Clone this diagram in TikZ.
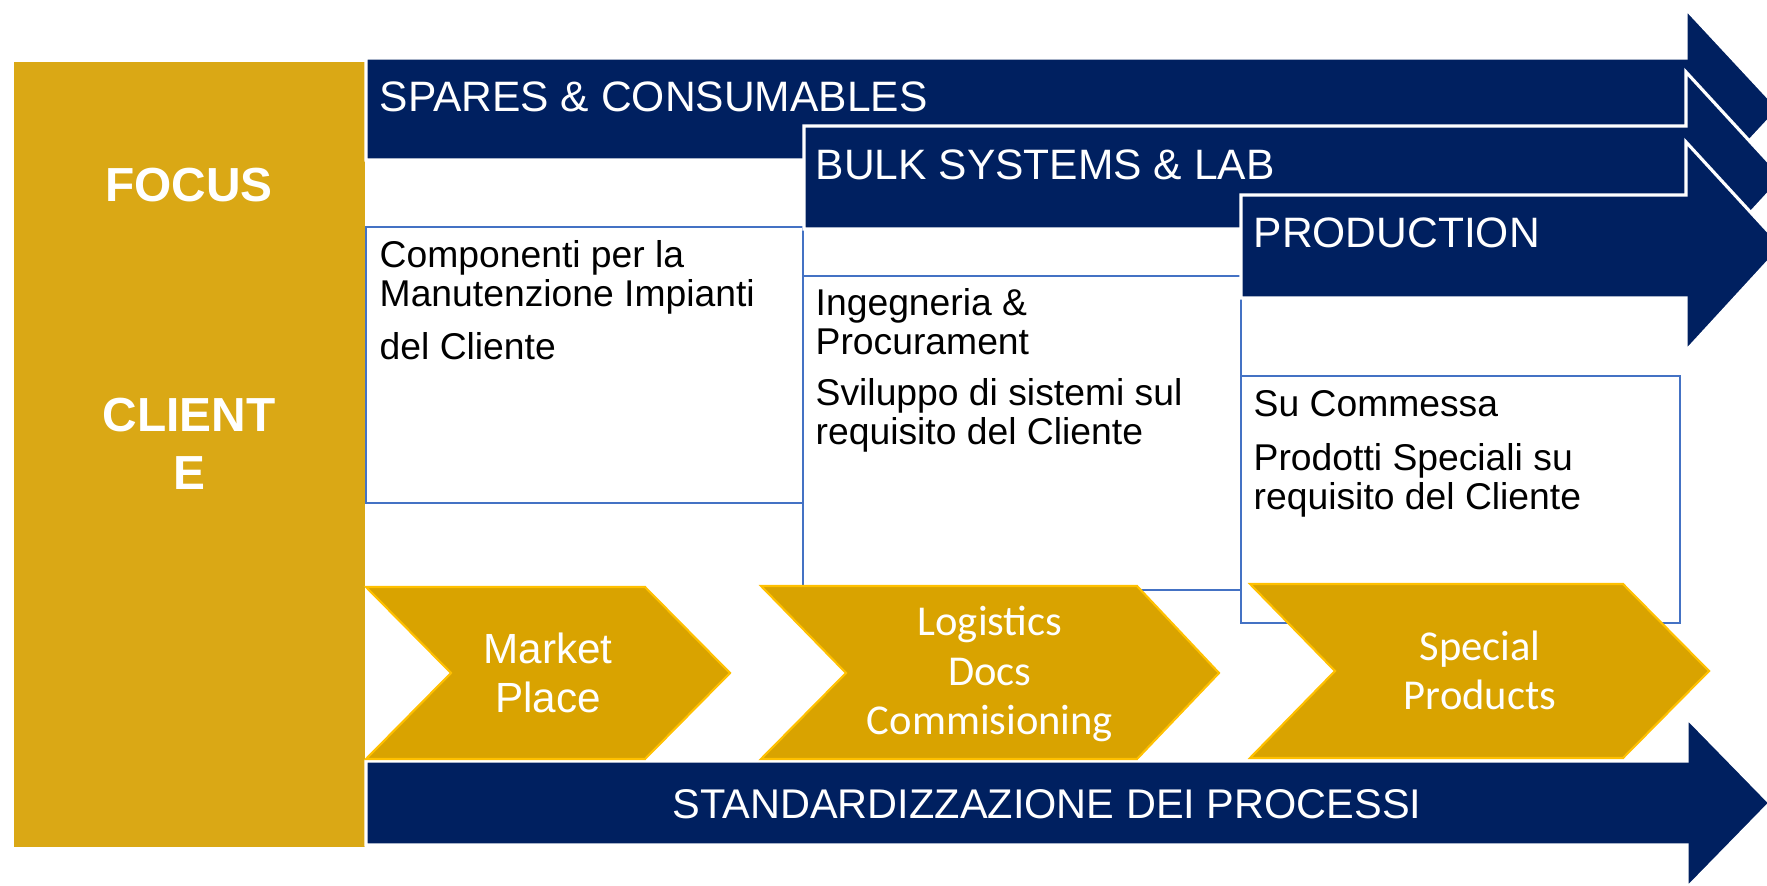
\documentclass[tikz,border=0pt]{standalone}
\usepackage{fontspec}
\setmainfont{Liberation Sans}
\newfontfamily\calibri{Carlito}
\definecolor{navy}{HTML}{002060}
\definecolor{focusgold}{HTML}{DAA815}
\definecolor{stepgold}{HTML}{D9A300}
\definecolor{stepline}{HTML}{FFC000}
\definecolor{boxblue}{HTML}{4472C4}

\tikzset{
  bar/.style={fill=navy,draw=white,line width=0.9pt},
  chevron/.style={fill=stepgold,draw=stepline,line width=0.6pt},
  infobox/.style={draw=boxblue,line width=0.6pt},
  bartext/.style={text=white,inner sep=0pt,anchor=base west,font=\fontsize{12.1}{14}\selectfont},
  boxtext/.style={inner sep=0pt,anchor=base west,align=left,font=\fontsize{10.6}{11.1}\selectfont},
  steptext/.style={text=white,inner sep=0pt,anchor=base,align=center,font=\calibri\fontsize{12.1}{14.2}\selectfont},
}

\begin{document}
\begin{tikzpicture}[x=0.01cm,y=-0.01cm]
  \clip (0,0) rectangle (1767,886);
  \fill[white] (0,0) rectangle (1767,886);
  % colonna a sinistra
  \fill[focusgold] (14,62) rectangle (365,847);
  \node[text=white,inner sep=0pt,anchor=base,font=\bfseries\fontsize{13.6}{16.5}\selectfont] (focus) at (189,202) {FOCUS};
  \node[text=white,inner sep=0pt,anchor=base,align=center,font=\bfseries\fontsize{13.6}{16.5}\selectfont] (cliente) at (189,490) {CLIENT\\E};
  % riquadri
  \draw[infobox] (366,227) rectangle (803,503);
  \draw[infobox] (803,276) rectangle (1241,590);
  \draw[infobox] (1241,376) rectangle (1680,623);
  % frecce
  \draw[bar] (366,58) -- (1686,58) -- (1686,9) -- (1779,109) -- (1686,209) -- (1686,160) -- (366,160) -- cycle;
  \draw[bar] (804,126) -- (1686,126) -- (1686,72) -- (1783,177.5) -- (1686,283) -- (1686,229) -- (804,229) -- cycle;
  \draw[bar] (1241,195) -- (1686,195) -- (1686,142) -- (1782,246.5) -- (1686,351) -- (1686,298) -- (1241,298) -- cycle;
  \draw[bar] (366,761) -- (1687,761) -- (1687,718) -- (1770,803) -- (1687,888) -- (1687,845) -- (366,845) -- cycle;
  % chevron
  \draw[chevron] (366,587) -- (645,587) -- (730,673) -- (645,759) -- (366,759) -- (451,673) -- cycle;
  \draw[chevron] (761,586) -- (1137,586) -- (1219,673) -- (1137,759) -- (761,759) -- (846,673) -- cycle;
  \draw[chevron] (1250,584) -- (1623,584) -- (1709,671) -- (1623,758) -- (1250,758) -- (1335,671) -- cycle;
  % testi
  \node[bartext] (spares) at (379,112) {SPARES \& CONSUMABLES};
  \node[bartext] (bulk) at (815,180) {BULK SYSTEMS \& LAB};
  \node[bartext] (prod) at (1253,248) {PRODUCTION};
  \node[bartext,anchor=base,font=\fontsize{11.8}{14}\selectfont] (std) at (1047,818) {STANDARDIZZAZIONE DEI PROCESSI};
  \node[boxtext] (comp) at (379,360) {Componenti per la\\Manutenzione Impianti\\[4pt]del Cliente};
  \node[boxtext] (ing) at (815,445) {Ingegneria \&\\Procurament\\[3.5pt]Sviluppo di sistemi sul\\requisito del Cliente};
  \node[boxtext] (comm) at (1253,510) {Su Commessa\\[4.5pt]Prodotti Speciali su\\requisito del Cliente};
  \node[steptext,font=\fontsize{12}{14.2}\selectfont] (market) at (548,713) {Market\\Place};
  \node[steptext] (logistics) at (990,735) {Logistics\\Docs\\Commisioning};
  \node[steptext] (special) at (1480,710) {Special\\Products};
\end{tikzpicture}
\end{document}
